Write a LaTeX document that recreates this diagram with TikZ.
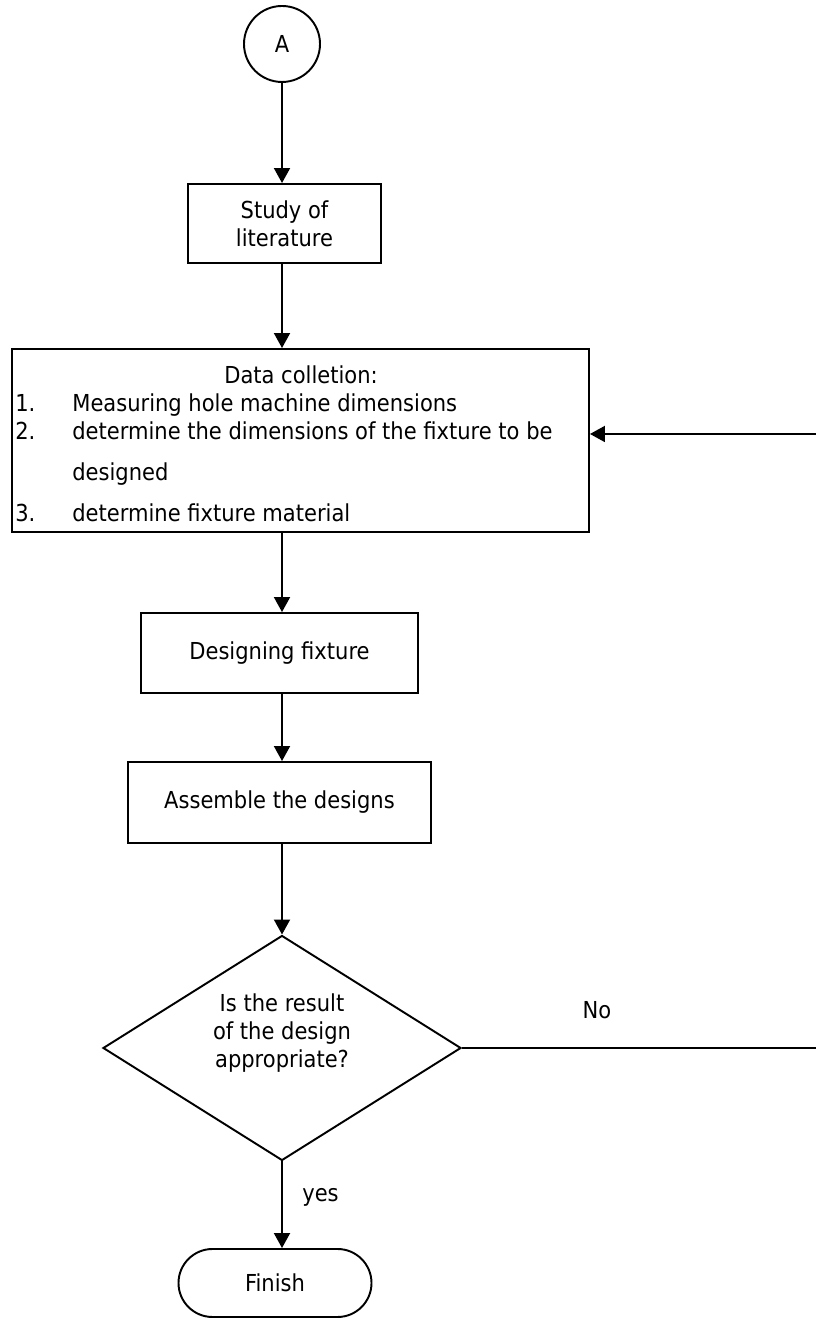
\documentclass[tikz,border=0pt]{standalone}
\usepackage{fontspec}
\setmainfont{DejaVu Sans}[FakeStretch=0.9]
\usetikzlibrary{shapes.geometric, arrows.meta, positioning, calc}

\begin{document}
\begin{tikzpicture}[
    font=\fontsize{13.3}{15.9}\selectfont,
    procbox/.style={draw, rectangle, line width=1.1pt, align=center, inner sep=0pt},
    flowline/.style={line width=1.1pt, -{Triangle[length=0.3cm, width=0.32cm]}},
    listtext/.style={inner sep=0pt, anchor=base west}
  ]
          \useasboundingbox (0,0) rectangle (16.32,26.36);
          % Connector
          \node[draw, circle, line width=1.1pt, minimum size=1.52cm, inner sep=0pt] (conA) at (5.64,25.48) {A};
          % Study of literature
          \node[procbox, minimum width=3.86cm, minimum height=1.58cm] (study) at (5.69,21.89) {Study of\\literature};
          % Data collection
          \node[procbox, minimum width=11.54cm, minimum height=3.66cm] (data) at (6.01,17.55) {};
          \node[inner sep=0pt, anchor=base] (datatitle) at (6.02,18.69) {Data colletion:};
          \node[listtext] (num1) at (0.30,18.13) {1.};
          \node[listtext] (item1) at (1.44,18.13) {Measuring hole machine dimensions};
          \node[listtext] (num2) at (0.30,17.57) {2.};
          \node[listtext] (item2) at (1.44,17.57) {determine the dimensions of the fixture to be};
          \node[listtext] (item2b) at (1.44,16.75) {designed};
          \node[listtext] (num3) at (0.30,15.93) {3.};
          \node[listtext] (item3) at (1.44,15.93) {determine fixture material};
          % Design and assembly
          \node[procbox, minimum width=5.54cm, minimum height=1.60cm] (design) at (5.59,13.30) {Designing fixture};
          \node[procbox, minimum width=6.06cm, minimum height=1.62cm] (assemble) at (5.59,10.31) {Assemble the designs};
          % Decision
          \node[draw, diamond, line width=1.1pt, minimum width=7.16cm, minimum height=4.5cm, inner sep=0pt] (check) at (5.64,5.40) {};
          \node[align=center, inner sep=0pt] (checktext) at ($(check.center)+(0,0.3)$) {Is the result\\of the design\\appropriate?};
          % Finish
          \node[draw, rectangle, rounded corners=0.68cm, line width=1.1pt, minimum width=3.86cm, minimum height=1.36cm] (finish) at (5.50,0.70) {Finish};
          % Labels
          \node[inner sep=0pt] (nolabel) at (11.94,6.16) {No};
          \node[inner sep=0pt, anchor=west] (yeslabel) at (6.04,2.42) {yes};
          % Connectors
          \draw[flowline] (conA.south) -- (conA |- study.north);
          \draw[flowline] (conA |- study.south) -- (conA |- data.north);
          \draw[flowline] (conA |- data.south) -- (conA |- design.north);
          \draw[flowline] (conA |- design.south) -- (conA |- assemble.north);
          \draw[flowline] (conA |- assemble.south) -- (check.north);
          \draw[flowline] (check.south) -- (check.south |- finish.north);
          % Loop back
          \coordinate (loopin) at ($(data.east)+(0,0.13)$);
          \coordinate (loopturn) at (16.40,0 |- check.east);
          \draw[flowline] (check.east) -- (loopturn) |- (loopin);
        \end{tikzpicture}
\end{document}
